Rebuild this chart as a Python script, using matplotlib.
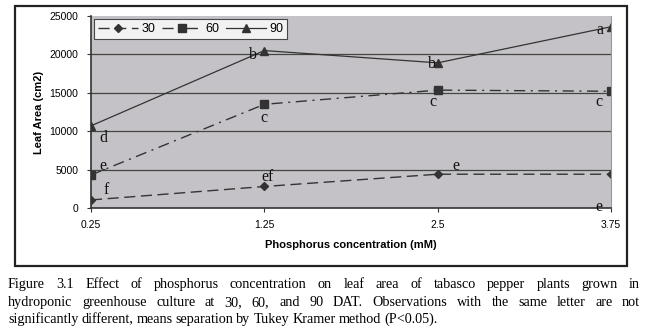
import matplotlib
matplotlib.use('Agg')
import matplotlib.pyplot as plt
from matplotlib.patches import Rectangle
import numpy as np

# data
conc = ['0.25', '1.25', '2.5', '3.75']
dat30 = [1050, 2800, 4400, 4400]
dat60 = [4300, 13500, 15350, 15200]
dat90 = [10700, 20500, 18900, 23600]

# significance letters and their offsets (px) from the points
letters90 = ['d', 'b', 'b', 'a']
letters60 = ['e', 'c', 'c', 'c']
letters30 = ['f', 'ef', 'e', 'e']
off90 = [(12, -12), (-11, -4), (-6, -1), (-11, -3)]
off60 = [(12, 9), (0, -14), (-5, -12), (-12, -11)]
off30 = [(15, 10), (3, 9), (18, 8), (-12, -33)]

caption = ["Figure 3.1 Effect of phosphorus concentration on leaf area of tabasco pepper plants grown in",
           "hydroponic greenhouse culture at 30, 60, and 90 DAT. Observations with the same letter are not",
           "significantly different, means separation by Tukey Kramer method (P<0.05)."]

W, H = 652, 335
fig = plt.figure(figsize=(W/100, H/100), dpi=100)
plt.rcParams['font.family'] = 'Liberation Sans'

# outer chart frame
fig.patches.append(Rectangle((15/W, 1-266/H), 612/W, 260/H, transform=fig.transFigure,
                             fill=False, edgecolor='#222222', lw=1.6))

ax = fig.add_axes([91/W, 1-208/H, 520/W, 192/H])
ax.set_facecolor('#c4c2c6')
x = np.arange(len(conc))
lc = '#333333'
ax.plot(x, dat30, color=lc, lw=1.0, ls=(0, (8, 4)), marker='D', ms=4, label='30')
ax.plot(x, dat60, color=lc, lw=1.0, ls=(0, (8, 4, 1.5, 4)), marker='s', ms=6, label='60')
ax.plot(x, dat90, color=lc, lw=0.9, ls='-', marker='^', ms=6, label='90')

for vals, labs, offs in [(dat90, letters90, off90), (dat60, letters60, off60), (dat30, letters30, off30)]:
    for i in range(len(vals)):
        ax.annotate(labs[i], (x[i], vals[i]), xytext=offs[i], textcoords='offset pixels',
                    ha='center', va='center', family='Liberation Serif', fontsize=11.5, color='#111111')

ax.set_xlim(0, 3)
ax.set_ylim(0, 25000)
ax.set_yticks(np.arange(0, 25001, 5000))
ax.set_xticks(x)
ax.set_xticklabels(conc)
for v in range(5000, 25000, 5000):
    ax.axhline(v, color='#444444', lw=0.9, zorder=0.5)
ax.spines['top'].set_visible(False)
ax.spines['right'].set_color('#999999')
ax.spines['left'].set_color('#333333')
ax.spines['bottom'].set_color('#333333')
ax.spines['left'].set_linewidth(1.2)
ax.spines['bottom'].set_linewidth(1.2)
ax.tick_params(labelsize=7.5, length=3, color='#333333', pad=6)
ax.set_ylabel('Leaf Area (cm2)', fontsize=8, fontweight='bold', labelpad=4)
ax.set_xlabel('Phosphorus concentration (mM)', fontsize=8, fontweight='bold', labelpad=7)
leg = ax.legend(loc='upper left', ncol=3, fontsize=9, frameon=True, fancybox=False,
                edgecolor='#222222', handlelength=3.2, handletextpad=0.3, columnspacing=0.5,
                borderaxespad=0.25, borderpad=0.3)
leg.get_frame().set_facecolor('white')
leg.get_frame().set_linewidth(0.8)

# justified caption, placed word by word
renderer = fig.canvas.get_renderer()
x0, x1 = 8, 640
ys = [288, 306, 323]
cfs = 10.2
for k, line in enumerate(caption):
    words = line.split(' ')
    ts = [fig.text(0, 1-ys[k]/H, w, family='Liberation Serif', fontsize=cfs, va='baseline') for w in words]
    widths = [t.get_window_extent(renderer).width for t in ts]
    if k < len(caption)-1:
        gap = (x1-x0-sum(widths))/(len(words)-1)
    else:
        gap = 3.0
    pos = x0
    for t, w in zip(ts, widths):
        t.set_x(pos/W)
        pos += w+gap

fig.savefig('out.png', dpi=100)
